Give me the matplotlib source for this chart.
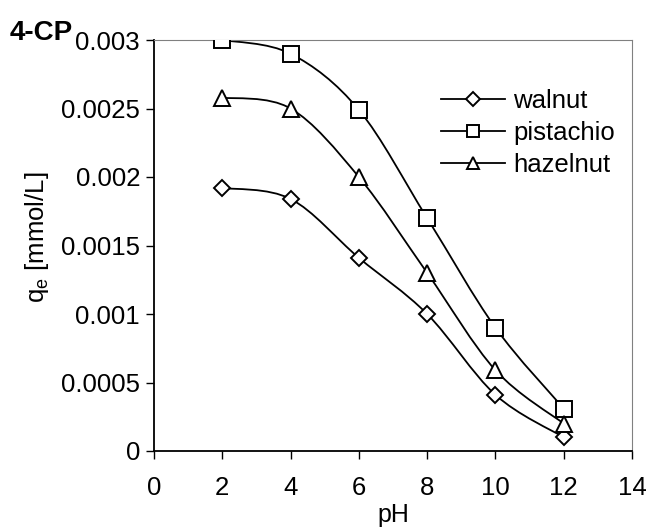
import numpy as np
import matplotlib
matplotlib.use("Agg")
import matplotlib.pyplot as plt
from matplotlib.path import Path
from matplotlib.patches import PathPatch

plt.rcParams['font.family'] = ['Liberation Sans', 'DejaVu Sans']

# data
ph = [2, 4, 6, 8, 10, 12]
walnut = [0.00192, 0.00184, 0.00141, 0.00100, 0.00041, 0.00010]
pistachio = [0.00300, 0.00290, 0.00249, 0.00170, 0.00090, 0.00031]
hazelnut = [0.00258, 0.00250, 0.00200, 0.00130, 0.00059, 0.00020]


def smooth_path(x, y):
    # Excel-style smoothed line: cubic Bezier segments, Catmull-Rom tangents
    p = np.column_stack([x, y]).astype(float)
    ext = np.vstack([p[0], p, p[-1]])
    verts = [p[0]]
    codes = [Path.MOVETO]
    for i in range(len(p) - 1):
        p0, p1, p2, p3 = ext[i], ext[i + 1], ext[i + 2], ext[i + 3]
        verts += [p1 + (p2 - p0) / 6, p2 - (p3 - p1) / 6, p2]
        codes += [Path.CURVE4] * 3
    return Path(verts, codes)


fig = plt.figure(figsize=(6.49, 5.31), dpi=100)
ax = fig.add_axes([154 / 649, 1 - 451 / 531, (632 - 154) / 649, (451 - 40) / 531])

series = [('walnut', walnut, 'D', 8), ('pistachio', pistachio, 's', 11), ('hazelnut', hazelnut, '^', 11)]
for name, vals, mk, ms in series:
    ax.add_patch(PathPatch(smooth_path(ph, vals), facecolor='none', edgecolor='black', lw=1.3))
    ax.plot(ph, vals, linestyle='none', marker=mk, ms=ms, mfc='white', mec='black', mew=1.4, zorder=3)
    # legend handle
    ax.plot([], [], color='black', lw=1.3, marker=mk, ms=ms * 0.85, mfc='white', mec='black', mew=1.4, label=name)

ax.set_xlim(0, 14)
ax.set_ylim(0, 0.003)
ax.set_xticks(range(0, 15, 2))
ax.set_yticks([0, 0.0005, 0.001, 0.0015, 0.002, 0.0025, 0.003])
ax.set_yticklabels(['0', '0.0005', '0.001', '0.0015', '0.002', '0.0025', '0.003'])
ax.tick_params(direction='out', length=6, width=1, labelsize=18.5, pad=4, color='black')
ax.tick_params(axis='x', pad=12)
ax.spines['left'].set_linewidth(1.3)
ax.spines['bottom'].set_linewidth(1.3)
ax.spines['top'].set_color('#808080')
ax.spines['right'].set_color('#808080')

ax.set_xlabel('pH', fontsize=18, labelpad=2)
ax.set_ylabel(r'q$_\mathregular{e}$ [mmol/L]', fontsize=18.5)
ax.yaxis.set_label_coords(-0.215, 0.52)

fig.text(10 / 649, 1 - 33 / 531, '4-CP', fontsize=20, fontweight='bold', va='center', ha='left')

ax.legend(loc='upper right', bbox_to_anchor=(1.012, 0.937), frameon=False, fontsize=18.5,
          handlelength=2.5, handletextpad=0.3, labelspacing=0.32)

fig.savefig('out.png', dpi=100)
